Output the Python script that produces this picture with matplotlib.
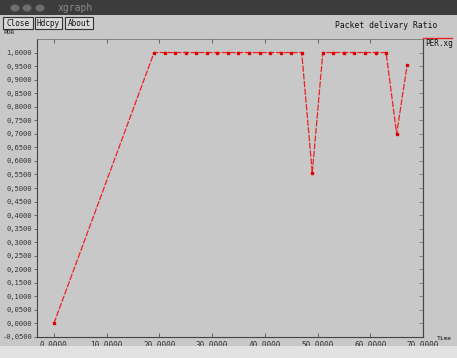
import matplotlib
matplotlib.use("Agg")
import matplotlib.pyplot as plt
from matplotlib.patches import Rectangle, Circle
from matplotlib.ticker import FuncFormatter

# Data (Packet delivery ratio vs time)
time_s = [0, 19, 21, 23, 25, 27, 29, 31, 33, 35, 37, 39, 41, 43, 45, 47,
          49, 51, 53, 55, 57, 59, 61, 63, 65, 67]
pdr = [0.0, 1.0, 1.0, 1.0, 1.0, 1.0, 1.0, 1.0, 1.0, 1.0, 1.0, 1.0, 1.0, 1.0, 1.0, 1.0,
       0.555, 1.0, 1.0, 1.0, 1.0, 1.0, 1.0, 1.0, 0.70, 0.955]
x_ticks = [0, 10, 20, 30, 40, 50, 60, 70]
y_ticks = [-0.05, 0.0, 0.05, 0.10, 0.15, 0.20, 0.25, 0.30, 0.35, 0.40, 0.45,
           0.50, 0.55, 0.60, 0.65, 0.70, 0.75, 0.80, 0.85, 0.90, 0.95, 1.00]

W, H = 457, 358
BG = "#c8c8c8"
fig = plt.figure(figsize=(W / 100, H / 100), dpi=100, facecolor=BG)

def fx(px):
    return px / W

def fy(py):
    return 1 - py / H

# window chrome
fig.patches.append(Rectangle((0, fy(15)), 1, 15 / H, transform=fig.transFigure,
                             facecolor="#3c3c3c", edgecolor="none", zorder=0))
for cx in (15, 27, 40):
    fig.patches.append(Circle((fx(cx), fy(8)), 4.5 / W, transform=fig.transFigure,
                              facecolor="#6e6e6e", edgecolor="#555555", lw=0.5))
fig.text(fx(58), fy(8), "xgraph", color="#8a8a8a", fontsize=7,
         family="DejaVu Sans Mono", va="center", ha="left")
fig.patches.append(Rectangle((0, 0), 1, 12 / H, transform=fig.transFigure,
                             facecolor="#e2e2e2", edgecolor="none", zorder=0))

mono = "DejaVu Sans Mono"
for label, x0, x1 in (("Close", 3, 33), ("Hdcpy", 35, 62), ("About", 65, 93)):
    fig.patches.append(Rectangle((fx(x0), fy(29)), (x1 - x0) / W, 12 / H,
                                 transform=fig.transFigure, facecolor="#d8d8d8",
                                 edgecolor="#333333", lw=0.8))
    fig.text(fx((x0 + x1) / 2), fy(23), label, fontsize=5.5, family=mono,
             ha="center", va="center", color="#111111")
fig.text(fx(335), fy(25), "Packet delivary Ratio", fontsize=5.8, family=mono,
         ha="left", va="center", color="#111111")
fig.text(fx(3), fy(32), "PDR", fontsize=4.5, family=mono, ha="left",
         va="center", color="#111111")
fig.text(fx(425), fy(43), "PER.xg", fontsize=5.5, family=mono, ha="left",
         va="center", color="#111111")
fig.text(fx(437), fy(338), "Time", fontsize=4.5, family=mono, ha="left",
         va="center", color="#111111")

ax = fig.add_axes([fx(37), fy(337), (423 - 37) / W, (337 - 39) / H])
ax.set_facecolor(BG)
ax.plot(time_s, pdr, color="#ee2222", lw=0.9, ls=(0, (5, 1.2)),
        marker="s", ms=1.5, mec="#dd0000", mfc="#dd0000")
ax.set_xlim(-3.2, 70)
ax.set_ylim(-0.05, 1.05)
ax.set_xticks(x_ticks)
ax.set_yticks(y_ticks)
ax.xaxis.set_major_formatter(FuncFormatter(lambda v, p: f"{v:.4f}".replace(".", ",")))
ax.yaxis.set_major_formatter(FuncFormatter(lambda v, p: f"{v:.4f}".replace(".", ",")))
ax.tick_params(axis="both", colors="#555555", labelcolor="#333333",
               length=3, width=0.6)
ax.tick_params(axis="x", direction="in", top=True, pad=3, labelsize=5.5)
ax.tick_params(axis="y", direction="out", pad=1, length=2.5, labelsize=5.1)
for t in ax.get_xticklabels() + ax.get_yticklabels():
    t.set_family(mono)
ax2 = ax.secondary_yaxis("right")
ax2.set_yticks(y_ticks)
ax2.tick_params(direction="in", length=3, width=0.6, colors="#777777", labelright=False)
ax2.spines["right"].set_color("#444444")
for s in ("left", "bottom", "right"):
    ax.spines[s].set_color("#444444")
    ax.spines[s].set_linewidth(0.8)
ax.spines["top"].set_color("#777777")
ax.spines["top"].set_linestyle((0, (2, 1)))
ax.spines["top"].set_linewidth(0.6)

# legend line
fig.lines.append(plt.Line2D([fx(423), fx(452)], [fy(38), fy(38)],
                            transform=fig.transFigure, color="#ee2222", lw=1.0))

fig.savefig("out.png", dpi=100, facecolor=BG)
